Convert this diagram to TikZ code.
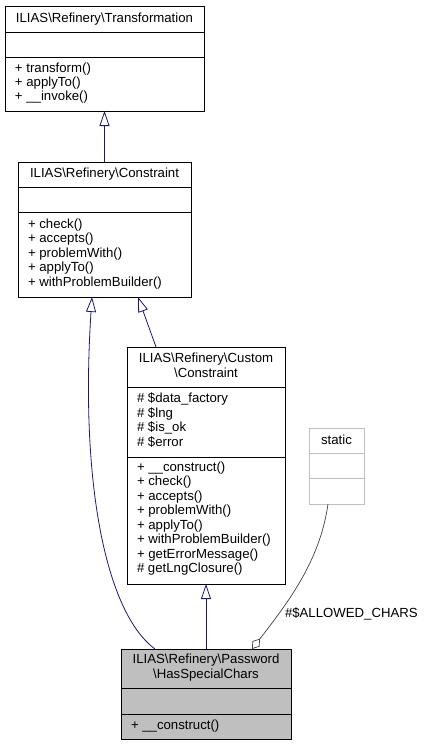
\documentclass[tikz,border=0pt]{standalone}
\usepackage{fontspec}
\setmainfont{Liberation Sans}
\usetikzlibrary{arrows.meta}
\definecolor{edgeblue}{RGB}{25,25,112}
\definecolor{edgegray}{RGB}{64,64,64}
\definecolor{boxgray}{RGB}{191,191,191}
\definecolor{staticgray}{RGB}{191,191,191}
\begin{document}
\begin{tikzpicture}[x=1pt,y=-1pt,
  every node/.style={font=\fontsize{13.2}{14.5}\selectfont, inner sep=0pt, outer sep=0pt},
  umlbox/.style={draw=black, line width=0.8pt, anchor=north west},
  divider/.style={draw=black, line width=0.8pt},
  txt/.style={anchor=west},
  ttl/.style={anchor=center, align=center},
  inh/.style={draw=edgeblue, line width=0.8pt, -{Triangle[open, length=15pt, width=10pt]}},
  agg/.style={draw=edgegray, line width=0.7pt, {Diamond[open, length=13pt, width=9pt]}-}
]
\useasboundingbox (0,0) rectangle (425,745);

% Transformation
\node[umlbox, minimum width=199pt, minimum height=105pt] (t) at (5,6) {};
\draw[divider] (5,32) -- (204,32);
\draw[divider] (5,57) -- (204,57);
\node[ttl] (tT) at (104.5,19) {ILIAS\textbackslash Refinery\textbackslash Transformation};
\node[txt] (t1) at (15,69) {+ transform()};
\node[txt] (t2) at (15,83) {+ applyTo()};
\node[txt] (t3) at (15,97) {+ \_\_invoke()};

% Constraint
\node[umlbox, minimum width=173pt, minimum height=135pt] (c) at (18,162) {};
\draw[divider] (18,187) -- (191,187);
\draw[divider] (18,212) -- (191,212);
\node[ttl] (cT) at (104.5,174) {ILIAS\textbackslash Refinery\textbackslash Constraint};
\node[txt] (c1) at (28,225) {+ check()};
\node[txt] (c2) at (28,239.5) {+ accepts()};
\node[txt] (c3) at (28,254) {+ problemWith()};
\node[txt] (c4) at (28,268.5) {+ applyTo()};
\node[txt] (c5) at (28,283) {+ withProblemBuilder()};

% Custom Constraint
\node[umlbox, minimum width=158pt, minimum height=237pt] (cc) at (127,347) {};
\draw[divider] (127,387) -- (285,387);
\draw[divider] (127,457) -- (285,457);
\node[ttl] (ccT) at (206,365.5) {ILIAS\textbackslash Refinery\textbackslash Custom\\\textbackslash Constraint};
\node[txt] (a1) at (137,399) {\# \$data\_factory};
\node[txt] (a2) at (137,413.5) {\# \$lng};
\node[txt] (a3) at (137,428) {\# \$is\_ok};
\node[txt] (a4) at (137,442.5) {\# \$error};
\node[txt] (m1) at (137,468) {+ \_\_construct()};
\node[txt] (m2) at (137,482.5) {+ check()};
\node[txt] (m3) at (137,497) {+ accepts()};
\node[txt] (m4) at (137,511.5) {+ problemWith()};
\node[txt] (m5) at (137,526) {+ applyTo()};
\node[txt] (m6) at (137,540.5) {+ withProblemBuilder()};
\node[txt] (m7) at (137,555) {+ getErrorMessage()};
\node[txt] (m8) at (137,569.5) {\# getLngClosure()};

% static
\node[umlbox, draw=staticgray, minimum width=55pt, minimum height=76pt] (s) at (309,428) {};
\draw[divider, draw=staticgray] (309,453) -- (364,453);
\draw[divider, draw=staticgray] (309,478) -- (364,478);
\node[ttl] (sT) at (336.5,439.5) {static};

% HasSpecialChars
\node[umlbox, fill=boxgray, minimum width=170pt, minimum height=90pt] (h) at (121,649) {};
\draw[divider] (121,688) -- (291,688);
\draw[divider] (121,714) -- (291,714);
\node[ttl] (hT) at (206,667.5) {ILIAS\textbackslash Refinery\textbackslash Password\\\textbackslash HasSpecialChars};
\node[txt] (h1) at (131,726) {+ \_\_construct()};

% connectors
\coordinate (cb1) at (92,297);
\coordinate (cb2) at (138,297);
\coordinate (cct) at (156,347);
\coordinate (hl) at (155,649);
\coordinate (hr) at (252,649);
\coordinate (sb) at (328,504);

\draw[inh] (c.north) -- (t.south);
\draw[inh] (cct) -- (cb2);
\draw[inh] (h.north) -- (cc.south);
\draw[inh] (hl) .. controls (105,612) and (80,480) .. (cb1);
\draw[agg] (hr) .. controls (290,600) and (320,560) .. (sb);
\node[anchor=west] (lbl) at (285,614) {\#\$ALLOWED\_CHARS};
\end{tikzpicture}
\end{document}
